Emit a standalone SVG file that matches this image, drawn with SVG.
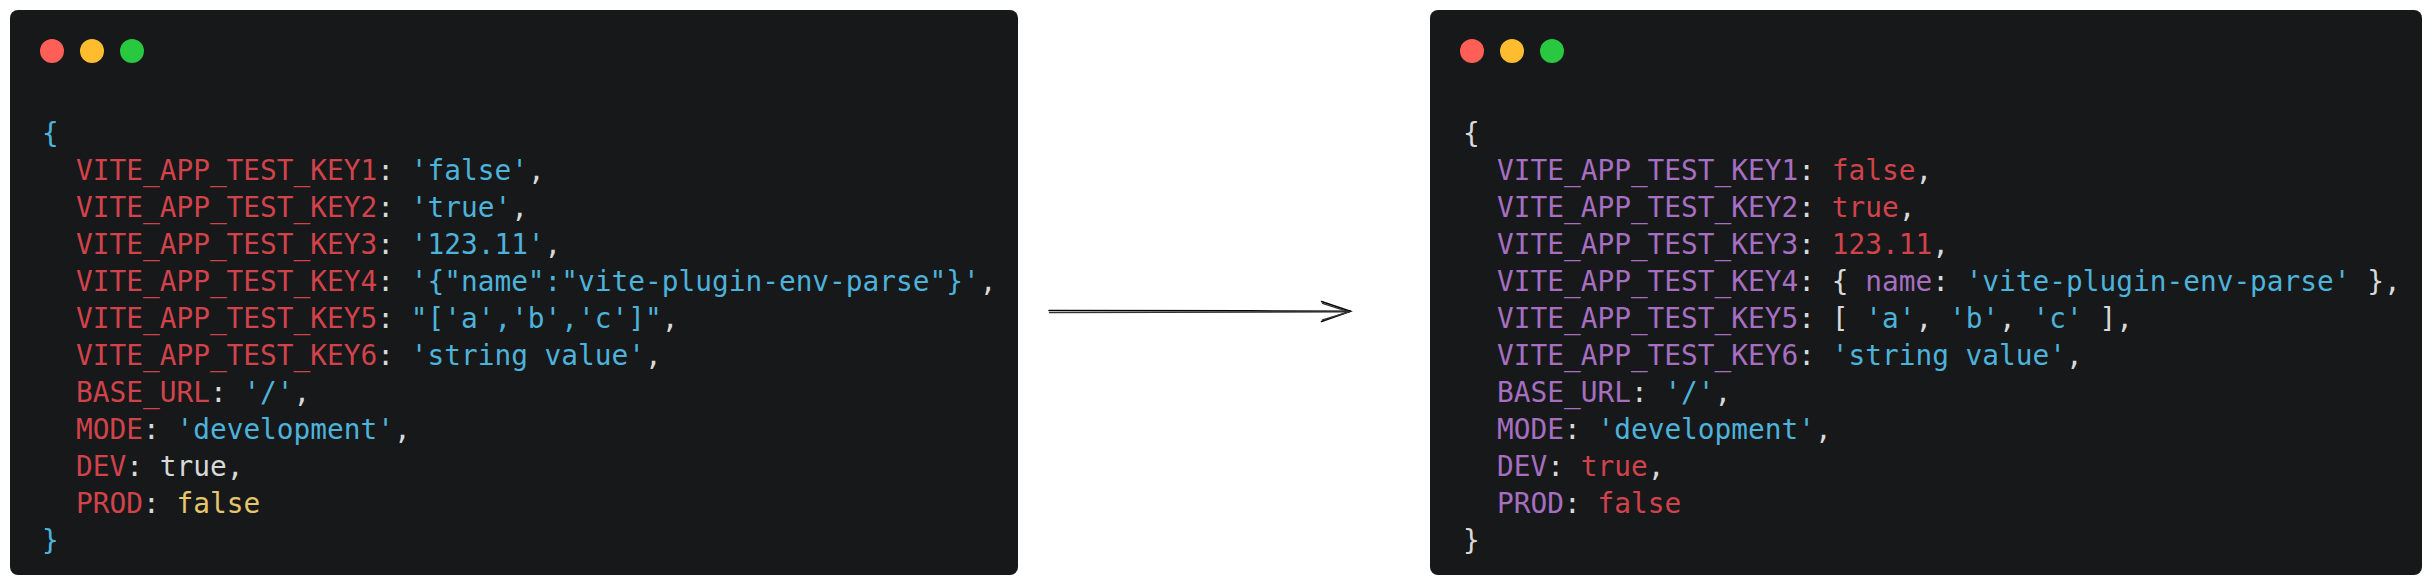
<svg xmlns="http://www.w3.org/2000/svg" width="2432" height="586" viewBox="0 0 2432 586">
<style>
.panel{fill:#17181a}
.code{font-family:"DejaVu Sans Mono","Liberation Mono",monospace;font-size:27.8px}
.k{fill:#d1434b}
.p{fill:#a66fc1}
.s{fill:#4db3da}
.w{fill:#d9d9d9}
.y{fill:#e5c66d}
.r{fill:#d1434b}
.arrow{fill:none;stroke-linecap:round}
</style>
<rect width="2432" height="586" fill="#ffffff"/>
<g id="source-panel">
<rect class="panel" x="10" y="10" width="1008" height="565" rx="8"/>
<circle cx="52" cy="51" r="12" fill="#ff5f57"/>
<circle cx="92" cy="51" r="12" fill="#febc2e"/>
<circle cx="132" cy="51" r="12" fill="#28c840"/>
<g class="code" xml:space="preserve">
<text x="42" y="143" class="s">{</text>
<text x="76" y="180"><tspan class="k">VITE_APP_TEST_KEY1</tspan><tspan class="w">: </tspan><tspan class="s">'false'</tspan><tspan class="w">,</tspan></text>
<text x="76" y="217"><tspan class="k">VITE_APP_TEST_KEY2</tspan><tspan class="w">: </tspan><tspan class="s">'true'</tspan><tspan class="w">,</tspan></text>
<text x="76" y="254"><tspan class="k">VITE_APP_TEST_KEY3</tspan><tspan class="w">: </tspan><tspan class="s">'123.11'</tspan><tspan class="w">,</tspan></text>
<text x="76" y="291"><tspan class="k">VITE_APP_TEST_KEY4</tspan><tspan class="w">: </tspan><tspan class="s">'{"name":"vite-plugin-env-parse"}'</tspan><tspan class="w">,</tspan></text>
<text x="76" y="328"><tspan class="k">VITE_APP_TEST_KEY5</tspan><tspan class="w">: </tspan><tspan class="s">"['a','b','c']"</tspan><tspan class="w">,</tspan></text>
<text x="76" y="365"><tspan class="k">VITE_APP_TEST_KEY6</tspan><tspan class="w">: </tspan><tspan class="s">'string value'</tspan><tspan class="w">,</tspan></text>
<text x="76" y="402"><tspan class="k">BASE_URL</tspan><tspan class="w">: </tspan><tspan class="s">'/'</tspan><tspan class="w">,</tspan></text>
<text x="76" y="439"><tspan class="k">MODE</tspan><tspan class="w">: </tspan><tspan class="s">'development'</tspan><tspan class="w">,</tspan></text>
<text x="76" y="476"><tspan class="k">DEV</tspan><tspan class="w">: </tspan><tspan class="w">true</tspan><tspan class="w">,</tspan></text>
<text x="76" y="513"><tspan class="k">PROD</tspan><tspan class="w">: </tspan><tspan class="y">false</tspan></text>
<text x="42" y="550" class="s">}</text>
</g>
</g>
<g id="result-panel">
<rect class="panel" x="1430" y="10" width="992" height="565" rx="8"/>
<circle cx="1472" cy="51" r="12" fill="#ff5f57"/>
<circle cx="1512" cy="51" r="12" fill="#febc2e"/>
<circle cx="1552" cy="51" r="12" fill="#28c840"/>
<g class="code" xml:space="preserve">
<text x="1463" y="143" class="w">{</text>
<text x="1497" y="180"><tspan class="p">VITE_APP_TEST_KEY1</tspan><tspan class="w">: </tspan><tspan class="r">false</tspan><tspan class="w">,</tspan></text>
<text x="1497" y="217"><tspan class="p">VITE_APP_TEST_KEY2</tspan><tspan class="w">: </tspan><tspan class="r">true</tspan><tspan class="w">,</tspan></text>
<text x="1497" y="254"><tspan class="p">VITE_APP_TEST_KEY3</tspan><tspan class="w">: </tspan><tspan class="r">123.11</tspan><tspan class="w">,</tspan></text>
<text x="1497" y="291"><tspan class="p">VITE_APP_TEST_KEY4</tspan><tspan class="w">: { </tspan><tspan class="p">name</tspan><tspan class="w">: </tspan><tspan class="s">'vite-plugin-env-parse'</tspan><tspan class="w"> },</tspan></text>
<text x="1497" y="328"><tspan class="p">VITE_APP_TEST_KEY5</tspan><tspan class="w">: [ </tspan><tspan class="s">'a'</tspan><tspan class="w">, </tspan><tspan class="s">'b'</tspan><tspan class="w">, </tspan><tspan class="s">'c'</tspan><tspan class="w"> ],</tspan></text>
<text x="1497" y="365"><tspan class="p">VITE_APP_TEST_KEY6</tspan><tspan class="w">: </tspan><tspan class="s">'string value'</tspan><tspan class="w">,</tspan></text>
<text x="1497" y="402"><tspan class="p">BASE_URL</tspan><tspan class="w">: </tspan><tspan class="s">'/'</tspan><tspan class="w">,</tspan></text>
<text x="1497" y="439"><tspan class="p">MODE</tspan><tspan class="w">: </tspan><tspan class="s">'development'</tspan><tspan class="w">,</tspan></text>
<text x="1497" y="476"><tspan class="p">DEV</tspan><tspan class="w">: </tspan><tspan class="r">true</tspan><tspan class="w">,</tspan></text>
<text x="1497" y="513"><tspan class="p">PROD</tspan><tspan class="w">: </tspan><tspan class="r">false</tspan></text>
<text x="1463" y="550" class="w">}</text>
</g>
</g>
<g id="connectors">
<path class="arrow" d="M1049 310.6 C1150 310.4 1250 310.8 1350.5 311.2" stroke="#000000" stroke-width="1.5"/>
<path class="arrow" d="M1049.5 312.6 C1150 312.8 1250 312.4 1349 311.8" stroke="#333333" stroke-width="1.4"/>
<path class="arrow" d="M1321.5 301.5 L1350.5 311.2 L1321.5 321.5" stroke="#000000" stroke-width="1.5"/>
<path class="arrow" d="M1322.5 303.4 L1349 311.8 L1322.5 320" stroke="#333333" stroke-width="1.4"/>
</g>
</svg>
